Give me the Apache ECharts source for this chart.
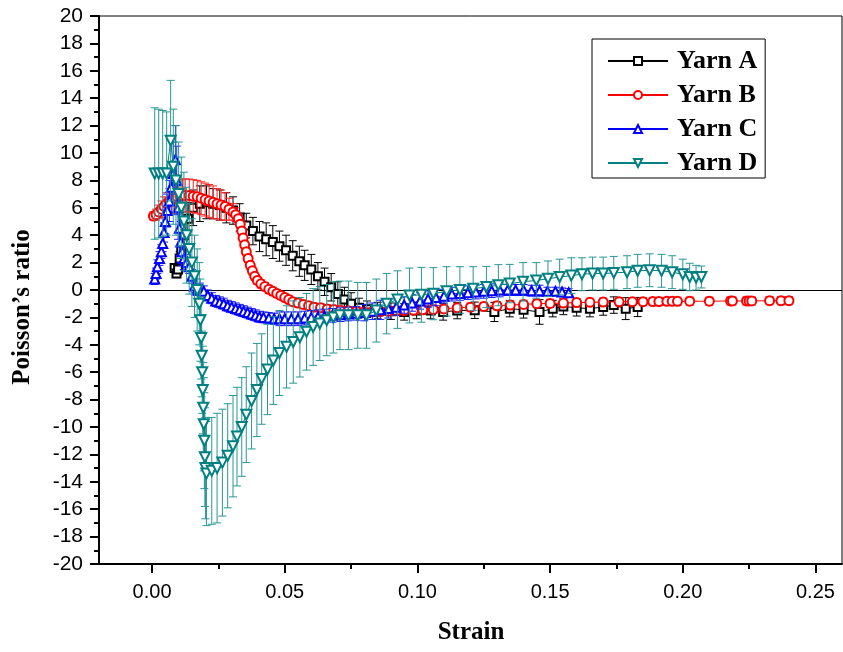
<!DOCTYPE html>
<html>
<head>
<meta charset="utf-8">
<script src="https://cdn.jsdelivr.net/npm/echarts@6/dist/echarts.min.js"></script>
<style>
html,body{margin:0;padding:0;background:#fff;}
#chart{width:843px;height:652px;}
</style>
</head>
<body>
<div id="chart"></div>
<script>
// ---------------- DATA ----------------
var xTickLabels = [0.00, 0.05, 0.10, 0.15, 0.20, 0.25];
var xMinorTicks = [0.025, 0.075, 0.125, 0.175, 0.225];

var seriesNames = ['Yarn A', 'Yarn B', 'Yarn C', 'Yarn D'];

var strainA = [0.0085,0.0092,0.0098,0.0104,0.0110,0.0120,0.0135,0.0155,0.0180,0.0205,0.0230,0.0255,0.0280,0.0305,0.0330,0.0355,0.0380,0.0405,0.0430,0.0455,0.0480,0.0505,0.0530,0.0555,0.0575,0.0600,0.0625,0.0650,0.0675,0.0700,0.0725,0.0750,0.0780,0.0810,0.0850,0.0900,0.0950,0.0997,0.1050,0.1097,0.1150,0.1216,0.1290,0.1348,0.1400,0.1460,0.1510,0.1550,0.1600,0.1650,0.1700,0.1740,0.1785,0.1830];
var poissonA = [1.6,1.2,1.5,2.3,2.9,4.0,5.2,6.0,6.3,6.4,6.3,6.2,6.0,5.8,5.3,4.7,4.3,3.9,3.7,3.5,3.2,2.9,2.5,2.1,1.8,1.5,1.0,0.6,0.2,-0.3,-0.7,-1.0,-1.3,-1.4,-1.5,-1.55,-1.6,-1.5,-1.5,-1.6,-1.5,-1.48,-1.6,-1.36,-1.45,-1.6,-1.36,-1.2,-1.3,-1.36,-1.24,-1.1,-1.36,-1.24];
var errorA = [0.3,0.3,0.4,0.5,0.6,1.0,1.2,1.3,1.3,1.2,1.1,1.1,1.1,1.0,1.0,0.9,1.0,1.1,1.2,1.2,1.1,1.1,1.1,1.1,1.1,1.1,1.0,1.0,1.0,0.9,0.9,0.8,0.7,0.6,0.6,0.6,0.6,0.6,0.6,0.6,0.6,0.6,0.7,0.6,0.6,0.9,0.6,0.6,0.6,0.6,0.6,0.6,0.8,0.7];

var strainB = [0.0005,0.0015,0.0025,0.0035,0.0045,0.0055,0.0065,0.0075,0.0085,0.0095,0.0105,0.0115,0.0125,0.0140,0.0155,0.0170,0.0185,0.0200,0.0215,0.0230,0.0245,0.0260,0.0275,0.0290,0.0305,0.0315,0.0325,0.0332,0.0338,0.0343,0.0349,0.0355,0.0362,0.0370,0.0378,0.0387,0.0397,0.0410,0.0425,0.0440,0.0455,0.0470,0.0485,0.0500,0.0515,0.0530,0.0550,0.0570,0.0590,0.0610,0.0635,0.0660,0.0685,0.0710,0.0740,0.0770,0.0800,0.0830,0.0860,0.0890,0.0920,0.0950,0.0985,0.1020,0.1060,0.1100,0.1150,0.1200,0.1250,0.1300,0.1350,0.1400,0.1450,0.1500,0.1550,0.1600,0.1650,0.1700,0.1760,0.1810,0.1850,0.1887,0.1910,0.1940,0.1960,0.1980,0.2026,0.2100,0.2180,0.2187,0.2240,0.2250,0.2260,0.2327,0.2370,0.2400];
var poissonB = [5.4,5.5,5.7,5.9,6.1,6.3,6.5,6.6,6.7,6.8,6.85,6.9,6.9,6.9,6.85,6.8,6.7,6.6,6.5,6.4,6.3,6.2,6.1,5.9,5.7,5.5,5.2,4.8,4.3,3.8,3.3,2.8,2.3,1.8,1.4,1.0,0.7,0.45,0.25,0.05,-0.1,-0.25,-0.4,-0.55,-0.7,-0.85,-0.95,-1.05,-1.15,-1.25,-1.3,-1.38,-1.43,-1.48,-1.52,-1.55,-1.6,-1.6,-1.58,-1.55,-1.52,-1.5,-1.48,-1.45,-1.42,-1.38,-1.3,-1.25,-1.2,-1.15,-1.1,-1.05,-1.0,-0.98,-0.95,-0.92,-0.9,-0.88,-0.86,-0.85,-0.85,-0.84,-0.84,-0.83,-0.83,-0.83,-0.82,-0.82,-0.8,-0.8,-0.8,-0.8,-0.8,-0.78,-0.78,-0.78];
var errorB = [0.3,0.4,0.5,0.6,0.7,0.8,0.9,1.0,1.1,1.1,1.2,1.2,1.2,1.2,1.2,1.2,1.2,1.2,1.2,1.2,1.1,1.1,1.0,0.8,0.6,0.5,0.4,0.3,0.3,0.3,0.3,0.3,0.3,0.3,0.3,0.3,0.3,0.3,0.3,0.3,0.3,0.3,0.3,0.3,0.3,0.3,0.3,0.3,0.3,0.3,0.3,0.3,0.3,0.3,0.3,0.3,0.3,0.3,0.3,0.3,0.3,0.3,0.3,0.3,0.3,0.3,0.3,0.3,0.3,0.3,0.3,0.3,0.3,0.3,0.3,0.3,0.3,0.3,0.3,0.3,0.3,0.3,0.3,0.3,0.3,0.3,0.3,0.3,0.3,0.3,0.3,0.3,0.3,0.3,0.3,0.3];

var strainC = [0.0010,0.0015,0.0020,0.0028,0.0035,0.0040,0.0045,0.0050,0.0057,0.0065,0.0072,0.0080,0.0088,0.0093,0.0098,0.0103,0.0108,0.0113,0.0120,0.0130,0.0140,0.0150,0.0160,0.0170,0.0180,0.0195,0.0210,0.0225,0.0240,0.0255,0.0270,0.0285,0.0300,0.0315,0.0330,0.0345,0.0360,0.0375,0.0390,0.0405,0.0420,0.0440,0.0460,0.0480,0.0500,0.0525,0.0550,0.0575,0.0600,0.0625,0.0650,0.0680,0.0710,0.0740,0.0770,0.0800,0.0830,0.0860,0.0890,0.0920,0.0950,0.0980,0.1010,0.1040,0.1070,0.1100,0.1130,0.1160,0.1190,0.1220,0.1250,0.1280,0.1310,0.1340,0.1370,0.1400,0.1430,0.1460,0.1490,0.1520,0.1545,0.1570];
var poissonC = [0.8,1.2,1.7,2.3,2.8,3.4,4.2,5.0,5.8,6.5,7.5,8.5,9.5,8.0,6.0,4.5,3.5,2.8,2.3,2.0,1.7,1.0,0.3,0.0,0.1,-0.1,-0.4,-0.6,-0.8,-0.9,-1.0,-1.15,-1.25,-1.35,-1.45,-1.55,-1.65,-1.75,-1.85,-1.95,-2.0,-2.05,-2.1,-2.1,-2.1,-2.1,-2.1,-2.05,-2.0,-1.95,-1.9,-1.85,-1.8,-1.75,-1.7,-1.65,-1.55,-1.45,-1.35,-1.25,-1.1,-0.95,-0.8,-0.65,-0.55,-0.45,-0.3,-0.25,-0.2,-0.15,-0.1,-0.05,0.0,0.0,0.0,0.0,-0.05,-0.05,-0.1,-0.1,-0.15,-0.2];
var errorC = [0.4,0.4,0.5,0.5,0.5,0.6,0.7,0.9,1.2,1.5,1.8,2.3,2.5,2.5,2.3,2.0,1.5,1.0,0.8,0.6,0.5,0.5,0.5,0.4,0.4,0.4,0.4,0.4,0.4,0.4,0.4,0.4,0.4,0.4,0.4,0.4,0.4,0.4,0.4,0.4,0.4,0.4,0.4,0.5,0.5,0.5,0.5,0.5,0.5,0.5,0.5,0.5,0.5,0.5,0.5,0.6,0.6,0.7,0.7,0.6,0.6,0.6,0.6,0.6,0.6,0.5,0.5,0.5,0.5,0.5,0.5,0.5,0.5,0.4,0.4,0.4,0.4,0.4,0.3,0.3,0.3,0.3];

var strainD = [0.0010,0.0025,0.0040,0.0055,0.0070,0.0080,0.0090,0.0100,0.0110,0.0120,0.0130,0.0140,0.0150,0.0160,0.0170,0.0178,0.0182,0.0185,0.0187,0.0189,0.0191,0.0193,0.0195,0.0197,0.0199,0.0201,0.0205,0.0225,0.0245,0.0265,0.0285,0.0305,0.0320,0.0338,0.0355,0.0375,0.0395,0.0413,0.0435,0.0457,0.0480,0.0507,0.0532,0.0557,0.0582,0.0607,0.0632,0.0658,0.0683,0.0708,0.0740,0.0775,0.0808,0.0845,0.0884,0.0925,0.0970,0.1015,0.1060,0.1110,0.1160,0.1210,0.1260,0.1305,0.1348,0.1398,0.1448,0.1492,0.1536,0.1580,0.1620,0.1660,0.1700,0.1740,0.1790,0.1830,0.1875,0.1920,0.1960,0.2000,0.2026,0.2050,0.2070];
var poissonD = [8.5,8.5,8.5,8.5,10.9,9.0,8.0,7.0,6.0,5.0,4.0,3.0,2.0,1.0,0.0,-1.0,-2.2,-3.5,-4.8,-6.0,-7.3,-8.6,-9.8,-11.0,-12.2,-13.0,-13.4,-13.2,-13.0,-12.6,-12.1,-11.4,-10.7,-10.0,-9.1,-8.1,-7.3,-6.5,-5.8,-5.15,-4.6,-4.15,-3.8,-3.45,-3.05,-2.7,-2.45,-2.2,-2.0,-1.85,-1.85,-1.85,-1.85,-1.5,-1.0,-0.7,-0.4,-0.35,-0.27,-0.1,0.0,0.1,0.22,0.35,0.47,0.6,0.7,0.82,0.95,1.05,1.15,1.2,1.2,1.25,1.3,1.4,1.44,1.4,1.3,1.15,0.95,0.9,0.95];
var errorD = [4.8,4.7,4.6,4.5,4.4,4.2,4.0,3.8,3.7,3.6,3.5,3.3,3.2,3.0,3.0,3.0,3.0,3.0,3.0,3.0,3.2,3.3,3.4,3.5,3.6,3.7,3.8,3.9,4.0,3.9,3.8,3.7,3.6,3.6,3.5,3.5,3.4,3.3,3.3,3.2,3.1,3.0,3.0,2.9,2.8,2.8,2.7,2.6,2.6,2.5,2.5,2.4,2.4,2.3,2.2,2.1,2.0,2.0,1.9,1.8,1.7,1.6,1.5,1.5,1.4,1.4,1.3,1.3,1.3,1.3,1.2,1.2,1.2,1.2,1.2,1.2,1.2,1.2,1.2,1.1,1.0,0.9,0.8];

// ---------------- CHART ----------------
var colors = ['#000000', '#ff0000', '#0000ff', '#008080'];
var barColors = ['#000000', '#ff2020', '#1a1aff', '#2a9696'];
var symbols = ['rect', 'circle', 'triangle', 'triangle'];
var symbolSizes = [8, 9, 9, 10];
var rotates = [0, 0, 0, 180];
var strains = [strainA, strainB, strainC, strainD];
var values = [poissonA, poissonB, poissonC, poissonD];
var errors = [errorA, errorB, errorC, errorD];

function pairs(i) {
  return strains[i].map(function (s, k) { return [s, values[i][k]]; });
}
function triples(i) {
  return strains[i].map(function (s, k) { return [s, values[i][k], errors[i][k]]; });
}
function makeErrorRender(color) {
  return function (params, api) {
    var x = api.value(0), y = api.value(1), e = api.value(2);
    var hi = api.coord([x, y + e]);
    var lo = api.coord([x, y - e]);
    var w = 4;
    var st = { stroke: color, lineWidth: 1, fill: null };
    return {
      type: 'group',
      children: [
        { type: 'line', shape: { x1: hi[0], y1: hi[1], x2: lo[0], y2: lo[1] }, style: st },
        { type: 'line', shape: { x1: hi[0] - w, y1: hi[1], x2: hi[0] + w, y2: hi[1] }, style: st },
        { type: 'line', shape: { x1: lo[0] - w, y1: lo[1], x2: lo[0] + w, y2: lo[1] }, style: st }
      ]
    };
  };
}

var series = [];
for (var i = 0; i < 4; i++) {
  series.push({
    name: seriesNames[i] + ' err',
    type: 'custom',
    renderItem: makeErrorRender(barColors[i]),
    data: triples(i),
    encode: { x: 0, y: 1 },
    clip: true,
    silent: true,
    z: 2 + i * 2,
    itemStyle: { opacity: i === 3 ? 0.85 : 0.9 }
  });
  var s = {
    name: seriesNames[i],
    type: 'line',
    data: pairs(i),
    symbol: 'empty' + symbols[i].charAt(0).toUpperCase() + symbols[i].slice(1),
    symbolSize: symbolSizes[i],
    symbolRotate: rotates[i],
    showAllSymbol: true,
    clip: true,
    z: 3 + i * 2,
    lineStyle: { color: colors[i], width: 1 },
    itemStyle: { color: colors[i], borderColor: colors[i], borderWidth: 1 },
    emphasis: { disabled: true }
  };
  if (i === 0) {
    s.markLine = {
      silent: true, symbol: 'none', label: { show: false },
      lineStyle: { color: '#000', width: 1, type: 'solid' },
      data: [{ yAxis: 0 }]
    };
  }
  series.push(s);
}

var chart = echarts.init(document.getElementById('chart'), null, { renderer: 'canvas' });
chart.setOption({
  animation: false,
  backgroundColor: '#fff',
  grid: { left: 99, right: 1, top: 16, bottom: 88, show: true, borderColor: '#000', borderWidth: 1, backgroundColor: 'transparent' },
  legend: {
    data: seriesNames,
    orient: 'vertical',
    left: 592, top: 39,
    padding: [9, 8, 2, 15],
    itemGap: 8,
    itemWidth: 60,
    itemHeight: 10,
    borderColor: '#000',
    borderWidth: 1,
    backgroundColor: '#fff',
    selectedMode: false,
    textStyle: { fontFamily: 'Liberation Serif', fontWeight: 'bold', fontSize: 26, color: '#000', lineHeight: 26, padding: [0, 0, 0, 4] }
  },
  xAxis: [{
    type: 'value', min: -0.02, max: 0.26, position: 'bottom',
    axisLine: { show: true, onZero: false, lineStyle: { color: '#000', width: 2 } },
    axisTick: { show: true, customValues: xTickLabels, length: 9, lineStyle: { color: '#000', width: 2 } },
    axisLabel: { customValues: xTickLabels, margin: 18, fontSize: 20, color: '#000', fontFamily: 'Liberation Sans',
      formatter: function (v) { return v.toFixed(2); } },
    splitLine: { show: false }
  }, {
    type: 'value', min: -0.02, max: 0.26, position: 'bottom',
    axisLine: { show: false, onZero: false },
    axisTick: { show: true, customValues: xMinorTicks, length: 5, lineStyle: { color: '#000', width: 2 } },
    axisLabel: { show: false },
    splitLine: { show: false }
  }],
  yAxis: {
    type: 'value', min: -20, max: 20, interval: 2,
    axisLine: { show: true, onZero: false, lineStyle: { color: '#000', width: 2 } },
    axisTick: { show: true, length: 9, lineStyle: { color: '#000', width: 2 } },
    minorTick: { show: true, splitNumber: 2, length: 5, lineStyle: { color: '#000', width: 2 } },
    axisLabel: { margin: 16, fontSize: 21, color: '#000', fontFamily: 'Liberation Sans' },
    splitLine: { show: false }
  },
  graphic: [
    { type: 'text', x: 23, y: 307, rotation: Math.PI / 2, silent: true,
      style: { text: "Poisson\u2019s ratio", font: 'bold 25px "Liberation Serif"', fill: '#000', textAlign: 'center', textVerticalAlign: 'middle' } },
    { type: 'text', x: 471, y: 633, silent: true,
      style: { text: 'Strain', font: 'bold 25px "Liberation Serif"', fill: '#000', textAlign: 'center', textVerticalAlign: 'middle' } }
  ],
  series: series
});
</script>
</body>
</html>
